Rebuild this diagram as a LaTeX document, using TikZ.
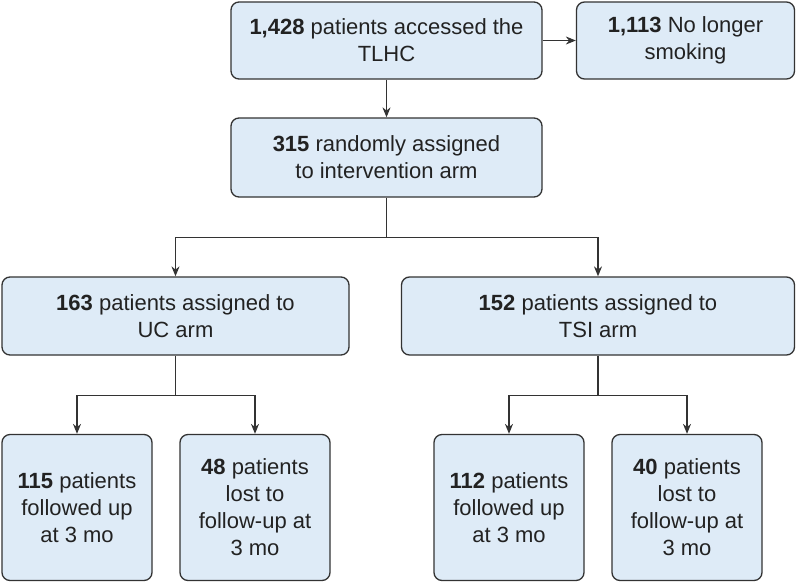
\documentclass[tikz,border=0pt]{standalone}
\usepackage{fontspec}
\setmainfont{Liberation Sans}
\usetikzlibrary{arrows.meta}
\definecolor{boxfill}{HTML}{DEEBF7}
\definecolor{boxline}{HTML}{333333}
\definecolor{txt}{HTML}{222222}
\begin{document}
\begin{tikzpicture}[x=1pt,y=-1pt,
 box/.style={draw=boxline, fill=boxfill, line width=1.3pt, rounded corners=8pt, align=center,
   font=\fontsize{22}{27}\selectfont, inner sep=0pt, text=txt},
 arr/.style={line width=1.2pt, draw=boxline, -{Stealth[length=10pt,width=8pt]}},
 ln/.style={line width=1.2pt, draw=boxline}]
\useasboundingbox (0,0) rectangle (796,582);
\node[box, minimum width=311pt, minimum height=77pt] (top) at (386.5,40.5) {\textbf{1,428} patients accessed the\\TLHC};
\node[box, minimum width=218pt, minimum height=77pt] (quit) at (685.5,40.5) {\textbf{1,113} No longer\\smoking};
\node[box, minimum width=311pt, minimum height=79pt] (rand) at (386.5,157.5) {\textbf{315} randomly assigned\\to intervention arm};
\node[box, minimum width=347pt, minimum height=78pt] (uc) at (175.5,316) {\textbf{163} patients assigned to\\UC arm};
\node[box, minimum width=393pt, minimum height=78pt] (tsi) at (598,316) {\textbf{152} patients assigned to\\TSI arm};
\node[box, minimum width=150pt, minimum height=146pt] (b115) at (77,507.5) {\textbf{115} patients\\followed up\\at 3 mo};
\node[box, minimum width=150pt, minimum height=146pt] (b48) at (255,507.5) {\textbf{48} patients\\lost to\\follow-up at\\3 mo};
\node[box, minimum width=150pt, minimum height=146pt] (b112) at (509,507.5) {\textbf{112} patients\\followed up\\at 3 mo};
\node[box, minimum width=150pt, minimum height=146pt] (b40) at (687,507.5) {\textbf{40} patients\\lost to\\follow-up at\\3 mo};
\draw[arr] (top) -- (quit);
\draw[arr] (top) -- (rand);
\draw[ln] (rand.south) -- ++(0,40) coordinate (s1);
\draw[arr] (s1) -| (uc.north);
\draw[arr] (s1) -| (tsi.north);
\draw[ln] (uc.south) -- ++(0,40) coordinate (s2);
\draw[arr] (s2) -| (b115.north);
\draw[arr] (s2) -| (b48.north);
\draw[ln] (tsi.south) -- ++(0,40) coordinate (s3);
\draw[arr] (s3) -| (b112.north);
\draw[arr] (s3) -| (b40.north);
\end{tikzpicture}
\end{document}
